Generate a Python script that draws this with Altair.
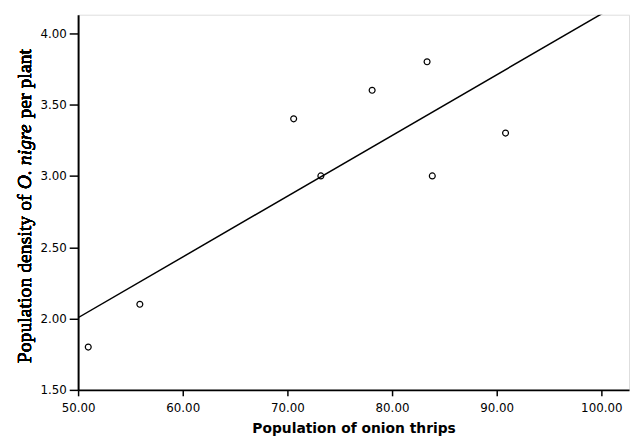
import altair as alt
import pandas as pd

thrips = [50.97, 55.9, 70.6, 73.2, 78.1, 83.35, 83.85, 90.85]
density = [1.80, 2.10, 3.40, 3.00, 3.60, 3.80, 3.00, 3.30]

x_ticks = [50, 60, 70, 80, 90, 100]
y_ticks = [1.5, 2.0, 2.5, 3.0, 3.5, 4.0]
x_domain = [50, 102.65]
y_domain = [1.5, 4.13]

title_parts = ["Population density of", "O. nigre", "per plant"]

df = pd.DataFrame({"x": thrips, "y": density})

xenc = alt.X("x:Q", scale=alt.Scale(domain=x_domain, nice=False, zero=False),
             axis=alt.Axis(values=x_ticks, format=".2f", title="Population of onion thrips",
                           grid=False, tickSize=6, labelPadding=7, labelFlush=False,
                           domainWidth=2, domainColor="black", tickColor="black", tickWidth=1.5,
                           labelColor="black", labelFont="DejaVu Sans", labelFontSize=12,
                           titleFont="DejaVu Sans", titleFontSize=14, titleFontWeight="bold",
                           titleColor="black", titlePadding=8))
yenc = alt.Y("y:Q", scale=alt.Scale(domain=y_domain, nice=False, zero=False),
             axis=alt.Axis(values=y_ticks, format=".2f", title=None, labelFlush=False,
                           grid=False, tickSize=9, labelPadding=3, domainWidth=2,
                           domainColor="black", tickColor="black", tickWidth=1.5,
                           labelColor="black", labelFont="DejaVu Sans", labelFontSize=12))

points = alt.Chart(df).mark_point(shape="circle", filled=False, color="black",
                                  size=36, strokeWidth=1.2, opacity=1).encode(x=xenc, y=yenc)

line = alt.Chart(df).transform_regression("x", "y", extent=x_domain).mark_line(
    color="black", strokeWidth=1.5, clip=True).encode(x="x:Q", y="y:Q")

fs = 20
w1 = 8.806 * fs
w2 = 3.583 * fs
y0 = 353
t1 = alt.Chart(df).mark_text(text=title_parts[0], angle=270, align="left", baseline="middle",
                             font="Liberation Serif", fontSize=fs, color="black").encode(
    x=alt.value(-54), y=alt.value(y0))
t2 = alt.Chart(df).mark_text(text=title_parts[1], angle=270, align="left", baseline="middle",
                             font="Liberation Serif", fontSize=fs, fontStyle="italic",
                             color="black").encode(x=alt.value(-54), y=alt.value(y0 - w1))
t3 = alt.Chart(df).mark_text(text=title_parts[2], angle=270, align="left", baseline="middle",
                             font="Liberation Serif", fontSize=fs, color="black").encode(
    x=alt.value(-54), y=alt.value(y0 - w1 - w2))

chart = alt.layer(line, points, t1, t2, t3).properties(
    width=558, height=380,
    autosize=alt.AutoSizeParams(type="none"),
    padding={"left": 71, "top": 4, "right": 2, "bottom": 50},
).configure_view(stroke="black", strokeWidth=1.5).configure(background="white")

chart.save("out.html", embed_options={"renderer": "svg", "actions": False})
